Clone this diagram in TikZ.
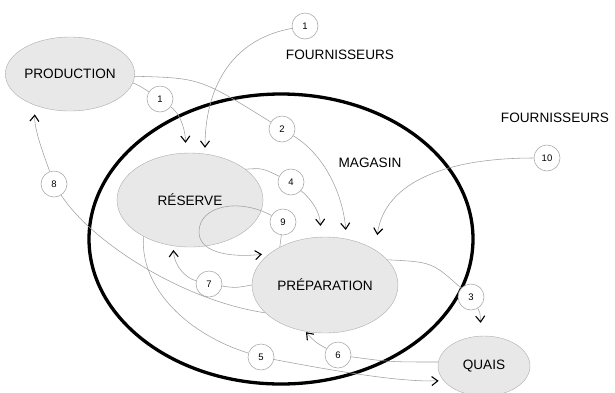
\documentclass[tikz,border=0pt]{standalone}
\usepackage{fontspec}
\setmainfont{Liberation Sans}
\usetikzlibrary{positioning,arrows.meta,shapes.geometric}
\tikzstyle{zone}=[ellipse,draw=gray!65,fill=gray!18,thin,inner sep=0pt,font=\fontsize{13.6}{15}\selectfont]
\tikzstyle{num}=[circle,draw=gray!65,fill=white,line width=0.6pt,minimum size=26pt,inner sep=0pt,font=\fontsize{9.5}{10}\selectfont]
\tikzstyle{titre}=[inner sep=1pt,font=\fontsize{13.6}{15}\selectfont]
\tikzstyle{flux}=[draw=gray!75,line width=0.55pt]
\tikzstyle{fluxarrow}=[flux,-{Straight Barb[color=black,length=6pt,width=9pt,line width=1.1pt]}]

\begin{document}
\begin{tikzpicture}[x=1pt,y=-1pt]
  \useasboundingbox (0,0) rectangle (615,392);

  % le magasin
  \draw[line width=3.3pt] (281,239) ellipse [x radius=192pt, y radius=145pt];
  \node[titre] (magasin) at (370,163) {MAGASIN};

  \node[zone,minimum width=114pt,minimum height=74pt] (production) at (70,74) {PRODUCTION};
  \node[zone,minimum width=146pt,minimum height=94pt] (reserve) at (190,200) {RÉSERVE};
  \node[zone,minimum width=146pt,minimum height=96pt] (prep) at (325,285) {PRÉPARATION};
  \node[zone,minimum width=92pt,minimum height=60pt] (quais) at (484,366) {QUAIS};

  \node[titre] (fourn1) at (340,55) {FOURNISSEURS};
  \node[titre] (fourn2) at (555,118) {FOURNISSEURS};

  \foreach \pos / \name / \nb in {{(305,26)/f1/1}, {(160,99)/p1/1}, {(282,129)/p2/2},
                                  {(471,297)/p3/3}, {(291,182)/p4/4}, {(261,357)/p5/5},
                                  {(338,355)/p6/6}, {(209,284)/p7/7}, {(54,184)/p8/8},
                                  {(283,222)/p9/9}, {(547,158)/p10/10}}
    \node[num] (\name) at \pos {\nb};

  % Flux entrants
  \draw[fluxarrow,shorten >=6pt] (f1) .. controls (228,40) and (205,92) .. (reserve.72);
  \draw[flux] (production.-8) .. controls (140,86) .. (p1);
  \draw[fluxarrow,shorten >=10pt] (p1) .. controls (178,112) and (185,125) .. (reserve.95);
  \draw[flux] (production.-2) .. controls (200,78) .. (p2);
  \draw[fluxarrow,shorten >=9pt] (p2) .. controls (325,155) and (343,195) .. (prep.65);
  \draw[fluxarrow,shorten >=15pt] (p10) .. controls (450,158) and (385,180) .. (prep.35);

  % Flux internes
  \draw[flux] (reserve.29) .. controls (262,168) .. (p4);
  \draw[fluxarrow,shorten >=11pt] (p4) .. controls (312,200) and (320,212) .. (prep.95);
  \draw[fluxarrow,shorten >=8pt] (p9) .. controls (240,198) and (199,205) .. (199,232)
                                      .. controls (199,256) and (240,257) .. (prep.150);
  \draw[flux] (p9) -- (prep.140);
  \draw[flux] (prep.180) .. controls (235,288) .. (p7);
  \draw[fluxarrow,shorten >=4pt] (p7) .. controls (185,278) and (174,265) .. (reserve.250);

  % Flux sortants
  \draw[flux] (prep.205) .. controls (180,300) and (90,240) .. (p8);
  \draw[fluxarrow,shorten >=9pt] (p8) .. controls (44,155) and (34,130) .. (production.222);
  \draw[flux] (reserve.218) .. controls (140,290) and (190,335) .. (p5);
  \draw[fluxarrow,shorten >=5pt] (p5) .. controls (340,372) and (400,382) .. (quais.200);
  \draw[flux] (quais.175) .. controls (390,362) .. (p6);
  \draw[fluxarrow,shorten >=1pt] (p6) .. controls (315,342) .. (prep.-113);
  \draw[flux] (prep.22) .. controls (432,262) .. (p3);
  \draw[fluxarrow,shorten >=13pt] (p3) .. controls (480,312) .. (quais.95);
\end{tikzpicture}
\end{document}
